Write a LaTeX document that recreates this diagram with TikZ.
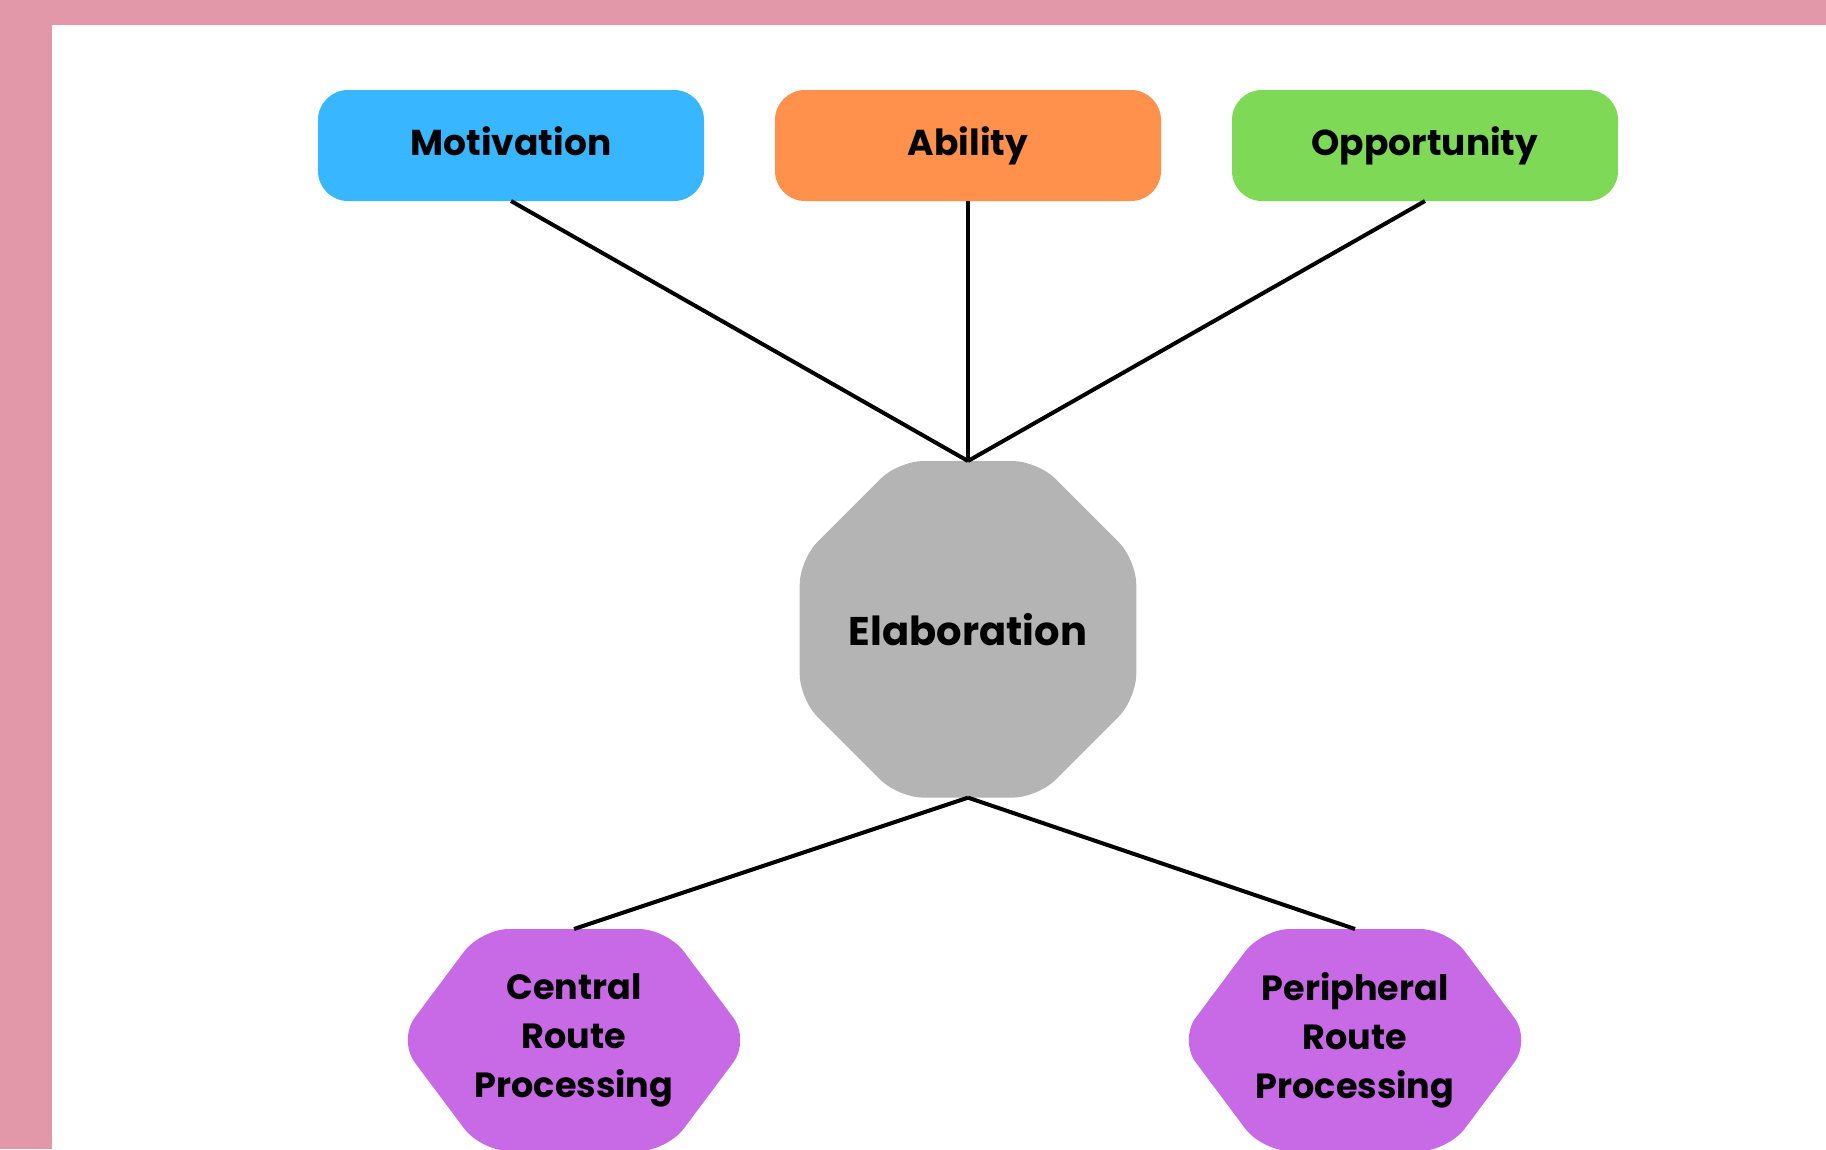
\documentclass[tikz,border=0pt]{standalone}
\usepackage{fontspec}
\setmainfont{Poppins}
\usetikzlibrary{positioning,shapes.geometric,backgrounds}
\definecolor{framepink}{HTML}{E398A9}
\definecolor{motivblue}{HTML}{38B6FF}
\definecolor{abilorange}{HTML}{FF914D}
\definecolor{opporgreen}{HTML}{7ED957}
\definecolor{elabgray}{HTML}{B4B4B4}
\definecolor{routepurple}{HTML}{C869E6}
\tikzset{
	factor box/.style={
		rectangle,
		rounded corners=30pt,
		minimum width=386pt,
		minimum height=111pt,
		inner sep=0pt,
		outer sep=0pt,
		text height=28pt,text depth=8pt, % adjust baselines
		font=\fontsize{36}{44}\selectfont\bfseries
	},
	elab octagon/.style={
		regular polygon,
		regular polygon sides=8,
		minimum size=352pt,
		rounded corners=25pt,
		inner sep=0pt,
		outer sep=0pt,
		fill=elabgray,
		font=\fontsize{40}{48}\selectfont\bfseries
	},
	route hexagon/.style={% only the frame, the fill is drawn behind
		rectangle,
		minimum width=352pt,
		minimum height=222pt,
		inner sep=0pt,
		outer sep=0pt,
		align=center,
		font=\fontsize{35}{49}\selectfont\bfseries
	},
	link/.style={
		line width=4pt
	}
}

\begin{document}
\begin{tikzpicture}[x=1pt,y=-1pt]
	\useasboundingbox (0,0) rectangle (1826,1149);
	\node[factor box,fill=abilorange] (ability) at (968,145.5) {Ability};
	\node[factor box,fill=motivblue,left=71pt of ability] (motivation) {Motivation};
	\node[factor box,fill=opporgreen,right=71pt of ability] (opportunity) {Opportunity};
	\node[elab octagon,below=260pt of ability] (elaboration) {Elaboration};
	\node[route hexagon] (central) at (574,1040) {Central\\Route\\Processing};
	\node[route hexagon] (peripheral) at (1355,1040) {Peripheral\\Route\\Processing};
	\foreach \src in {motivation,ability,opportunity}
		\draw[link] (\src.south) -- (elaboration.north);
	\foreach \dst in {central,peripheral}
		\draw[link] (elaboration.south) -- (\dst.north);
	\begin{scope}[on background layer]
		\fill[framepink] (0,0) rectangle (1826,1149);
		\fill[white] (52,25) rectangle (1826,1149);
		\foreach \n in {central,peripheral}
			\fill[routepurple,rounded corners=28pt]
				(\n.west) -- ([xshift=83pt]\n.north west) -- ([xshift=-83pt]\n.north east)
				-- (\n.east) -- ([xshift=-83pt]\n.south east) -- ([xshift=83pt]\n.south west) -- cycle;
	\end{scope}
\end{tikzpicture}
\end{document}
